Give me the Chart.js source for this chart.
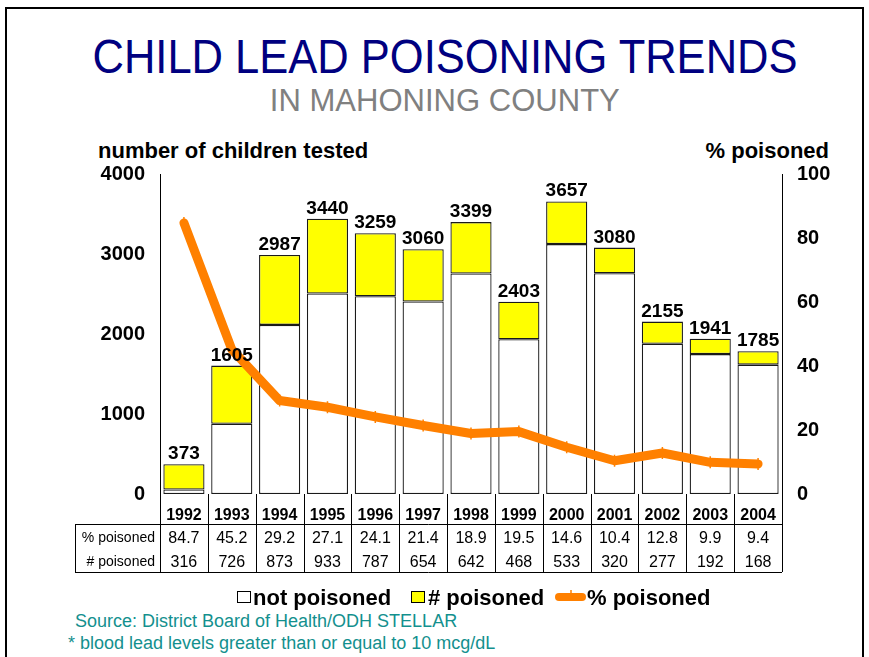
<!DOCTYPE html>
<html>
<head>
<meta charset="utf-8">
<script src="https://cdn.jsdelivr.net/npm/chart.js@4.4.1/dist/chart.umd.min.js"></script>
<style>
  html, body { margin: 0; padding: 0; background: #fff; }
  body { width: 869px; height: 657px; position: relative; overflow: hidden; font-family: 'Liberation Sans', Arial, sans-serif; }
  #frame { position: absolute; left: 5px; top: 7px; width: 855px; height: 700px; border: 2px solid #000; border-bottom: none; }
  .txt { position: absolute; white-space: nowrap; line-height: 1; }
  #title { top: 33px; left: 20px; width: 849px; text-align: center; font-size: 48px; color: #000080; }
  #title span, #subtitle span { display: inline-block; }
  #subtitle { top: 85px; left: 20px; width: 849px; text-align: center; font-size: 31px; color: #808080; }
  .axisTitle { font-size: 22px; font-weight: bold; color: #000; top: 140px; }
  .note { font-size: 18px; color: #13908e; }
  #chartBox { position: absolute; left: 0; top: 0; width: 869px; height: 657px; }
</style>
</head>
<body>
<div id="frame"></div>
<div class="txt" id="title"><span id="titleText">CHILD LEAD POISONING TRENDS</span></div>
<div class="txt" id="subtitle"><span id="subText">IN MAHONING COUNTY</span></div>
<div class="txt axisTitle" style="left:98px;">number of children tested</div>
<div class="txt axisTitle" style="right:40px;">% poisoned</div>
<div class="txt note" style="left:75px; top:612px;">Source: District Board of Health/ODH STELLAR</div>
<div class="txt note" style="left:68px; top:634px;">* blood lead levels greater than or equal to 10 mcg/dL</div>
<div id="chartBox"><canvas id="chart" width="869" height="657"></canvas></div>

<script>
// Data
const years = ['1992', '1993', '1994', '1995', '1996', '1997', '1998', '1999', '2000', '2001', '2002', '2003', '2004'];
const notPoisoned = [57, 879, 2114, 2507, 2472, 2406, 2757, 1935, 3124, 2760, 1878, 1749, 1617];
const numPoisoned = [316, 726, 873, 933, 787, 654, 642, 468, 533, 320, 277, 192, 168];
const totalTested = [373, 1605, 2987, 3440, 3259, 3060, 3399, 2403, 3657, 3080, 2155, 1941, 1785];
const pctPoisoned = [84.7, 45.2, 29.2, 27.1, 24.1, 21.4, 18.9, 19.5, 14.6, 10.4, 12.8, 9.9, 9.4];

const FONT = "'Liberation Sans', Arial, sans-serif";
const ORANGE = '#ff8000';

// squeeze the heading texts to the widths seen in the slide
function fitWidth(id, target) {
  const el = document.getElementById(id);
  const w = el.getBoundingClientRect().width;
  el.style.transform = `scaleX(${target / w})`;
}
fitWidth('titleText', 705);
fitWidth('subText', 350);

// total labels above each stacked bar (top segment = dataset 2)
const totalsPlugin = {
  id: 'totals',
  afterDatasetsDraw(chart) {
    const ctx = chart.ctx;
    const meta = chart.getDatasetMeta(2);
    ctx.save();
    ctx.font = `bold 19px ${FONT}`;
    ctx.fillStyle = '#000';
    ctx.textAlign = 'center';
    ctx.textBaseline = 'alphabetic';
    meta.data.forEach((bar, i) => {
      ctx.fillText(String(totalTested[i]), bar.x, bar.y - 5);
    });
    ctx.restore();
  }
};

// data table under the plot + legend
const tablePlugin = {
  id: 'dataTable',
  afterDraw(chart) {
    const ctx = chart.ctx;
    const area = chart.chartArea;
    const xs = chart.scales.x;
    const step = (area.right - area.left) / years.length;
    const tableLeft = 75, headBottom = 524, tableBottom = 572;

    ctx.save();
    ctx.strokeStyle = '#000';
    ctx.lineWidth = 1;
    ctx.beginPath();
    for (let i = 0; i <= years.length; i++) {
      const bx = Math.round(area.left + i * step) + 0.5;
      ctx.moveTo(bx, area.bottom);
      ctx.lineTo(bx, tableBottom);
    }
    ctx.moveTo(tableLeft, headBottom + 0.5);
    ctx.lineTo(area.right, headBottom + 0.5);
    ctx.moveTo(tableLeft, tableBottom + 0.5);
    ctx.lineTo(area.right, tableBottom + 0.5);
    ctx.moveTo(tableLeft + 0.5, headBottom);
    ctx.lineTo(tableLeft + 0.5, tableBottom);
    ctx.stroke();

    ctx.fillStyle = '#000';
    ctx.textAlign = 'center';
    ctx.textBaseline = 'alphabetic';
    years.forEach((yr, i) => {
      const cx = xs.getPixelForValue(i);
      ctx.font = `bold 16px ${FONT}`;
      ctx.fillText(yr, cx, 520);
      ctx.font = `16px ${FONT}`;
      ctx.fillText(pctPoisoned[i].toFixed(1), cx, 543);
      ctx.fillText(String(numPoisoned[i]), cx, 567);
    });
    ctx.textAlign = 'right';
    ctx.font = `14px ${FONT}`;
    ctx.fillText('% poisoned', area.left - 5, 542);
    ctx.fillText('# poisoned', area.left - 5, 566);

    // legend
    const ly = 597;
    ctx.textAlign = 'left';
    ctx.font = `bold 22px ${FONT}`;
    ctx.fillStyle = '#fff';
    ctx.fillRect(237.5, 591.5, 13, 11);
    ctx.strokeRect(237.5, 591.5, 13, 11);
    ctx.fillStyle = '#000';
    ctx.fillText('not poisoned', 253, 605);

    ctx.fillStyle = '#ffff00';
    ctx.fillRect(411.5, 591.5, 13, 11);
    ctx.strokeRect(411.5, 591.5, 13, 11);
    ctx.fillStyle = '#000';
    ctx.fillText('# poisoned', 428, 605);

    ctx.strokeStyle = ORANGE;
    ctx.lineCap = 'round';
    ctx.lineWidth = 8;
    ctx.beginPath();
    ctx.moveTo(559, ly);
    ctx.lineTo(582, ly);
    ctx.stroke();
    ctx.lineWidth = 1.5;
    ctx.lineCap = 'butt';
    ctx.beginPath();
    ctx.moveTo(571, ly - 7);
    ctx.lineTo(571, ly);
    ctx.stroke();
    ctx.fillStyle = '#000';
    ctx.fillText('% poisoned', 587, 605);
    ctx.restore();
  }
};

const tickFont = { family: FONT, size: 20, weight: 'bold' };

new Chart(document.getElementById('chart'), {
  data: {
    labels: years,
    datasets: [
      {
        type: 'line',
        label: '% poisoned',
        data: pctPoisoned,
        yAxisID: 'y1',
        order: 0,
        borderColor: ORANGE,
        borderWidth: 9,
        borderCapStyle: 'round',
        borderJoinStyle: 'round',
        tension: 0,
        pointStyle: 'line',
        rotation: 90,
        pointRadius: 6,
        pointBorderWidth: 1.5,
        pointBorderColor: ORANGE,
        pointBackgroundColor: ORANGE
      },
      {
        type: 'bar',
        label: 'not poisoned',
        data: notPoisoned,
        stack: 's',
        yAxisID: 'y',
        order: 1,
        backgroundColor: '#ffffff',
        borderColor: '#1a1a1a',
        borderWidth: 1.3,
        borderSkipped: false,
        barPercentage: 0.86,
        categoryPercentage: 1
      },
      {
        type: 'bar',
        label: '# poisoned',
        data: numPoisoned,
        stack: 's',
        yAxisID: 'y',
        order: 1,
        backgroundColor: '#ffff00',
        borderColor: '#1a1a1a',
        borderWidth: 1.3,
        borderSkipped: false,
        barPercentage: 0.86,
        categoryPercentage: 1
      }
    ]
  },
  options: {
    responsive: false,
    animation: false,
    layout: { padding: { left: 0, right: 0, top: 174, bottom: 163 } },
    plugins: {
      legend: { display: false },
      tooltip: { enabled: false }
    },
    scales: {
      x: {
        display: false,
        stacked: true
      },
      y: {
        position: 'left',
        stacked: true,
        min: 0,
        max: 4000,
        ticks: { stepSize: 1000, color: '#000', font: tickFont, padding: 15, callback: v => String(v) },
        grid: { display: false, drawTicks: false },
        border: { display: true, color: '#000', width: 1 },
        afterFit(scale) { scale.width = 160; }
      },
      y1: {
        position: 'right',
        min: 0,
        max: 100,
        ticks: { stepSize: 20, color: '#000', font: tickFont, padding: 15 },
        grid: { display: false, drawTicks: false },
        border: { display: true, color: '#000', width: 1 },
        afterFit(scale) { scale.width = 87; }
      }
    }
  },
  plugins: [totalsPlugin, tablePlugin]
});
</script>
</body>
</html>
